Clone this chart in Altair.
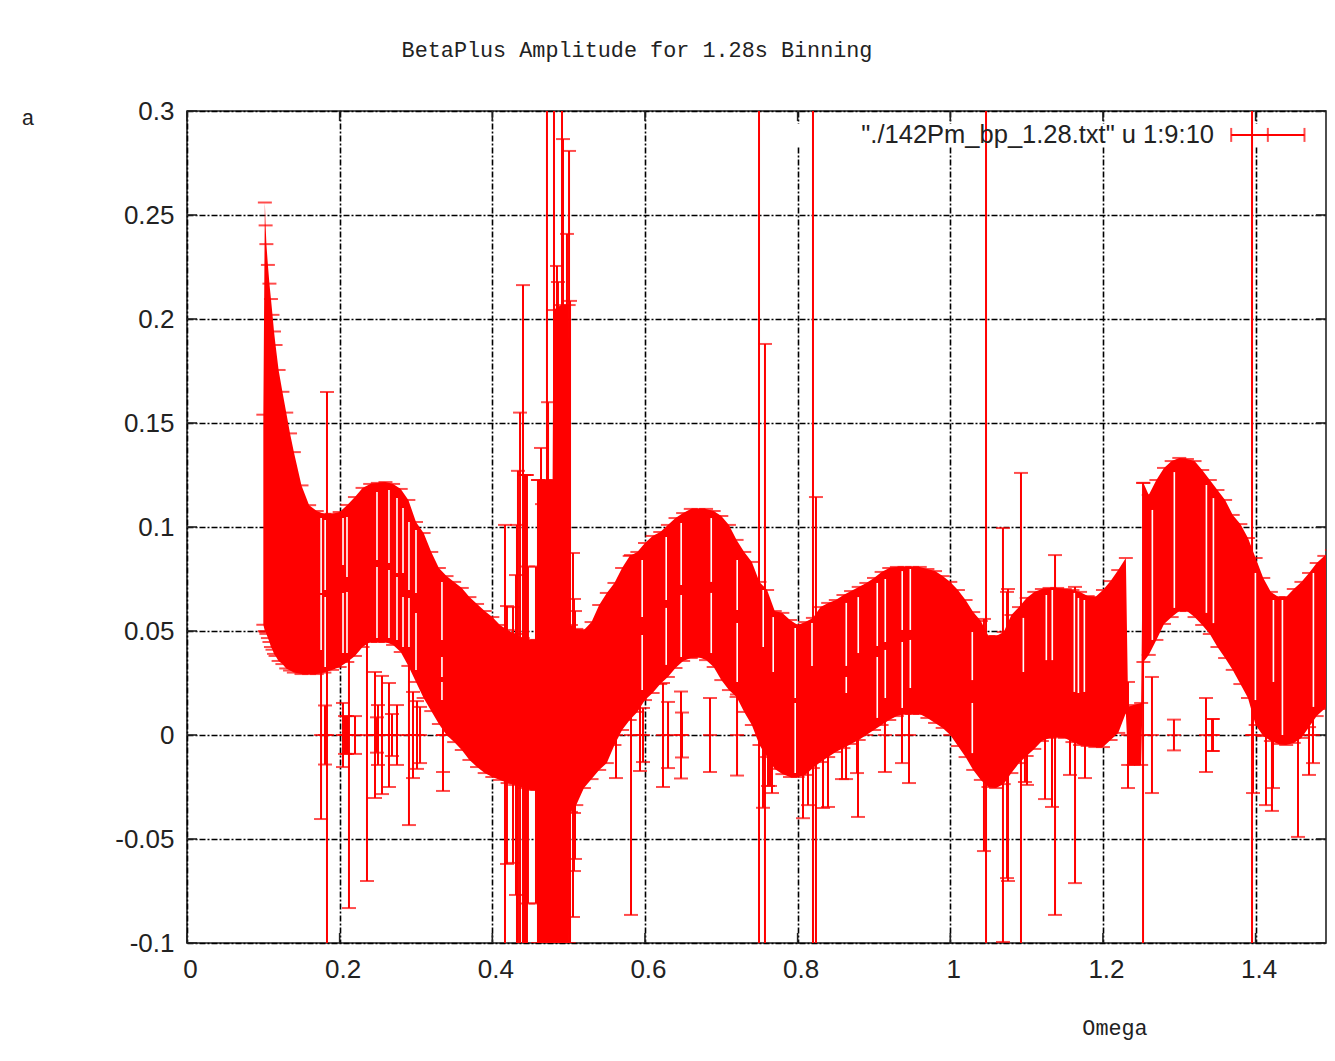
import altair as alt
import pandas as pd

TITLE = "BetaPlus Amplitude for 1.28s Binning"
XLABEL = "Omega"
YLABEL = "a"
KEY = '"./142Pm_bp_1.28.txt" u 1:9:10'
X_TICKS = [0, 0.2, 0.4, 0.6, 0.8, 1, 1.2, 1.4]
Y_TICKS = [-0.1, -0.05, 0, 0.05, 0.1, 0.15, 0.2, 0.25, 0.3]
X_MAX = 1.4922

band_x = [.100,.102,.103,.104,.106,.108,.110,.112,.114,.116,.120,.125,.130,.135,.140,.150,.160,.170,.180,.190,
          .200,.210,.220,.230,.240,.250,.260,.270,.280,.290,.300,.310,.320,.330,.340,.350,.360,.370,.380,.390,
          .400,.410,.420,.430,.440,.450,.459,.460,.470,.479,.480,.490,.500,.503,.510,.520,.530,.540,.550,.560,.570,.580,.590,
          .600,.610,.620,.630,.640,.650,.660,.670,.680,.690,.700,.710,.720,.730,.740,.750,.760,.770,.780,.790,
          .800,.810,.820,.830,.840,.850,.860,.870,.880,.890,.900,.910,.920,.930,.940,.950,.960,.970,.980,.990,
          1.00,1.01,1.02,1.03,1.04,1.05,1.06,1.07,1.08,1.09,1.10,1.11,1.12,1.13,1.14,1.15,1.16,1.17,1.18,1.19,
          1.20,1.21,1.22,1.23,1.233,1.24,1.25,1.253,1.26,1.27,1.28,1.29,1.30,1.31,1.32,1.33,1.34,1.35,1.36,1.37,1.38,1.39,
          1.40,1.41,1.42,1.43,1.44,1.45,1.46,1.47,1.48,1.49,1.50]
band_hi = [.154,.256,.245,.236,.226,.217,.2096,.202,.194,.1875,.1755,.165,.155,.145,.136,.120,.1105,.1077,.1063,.1063,
           .1072,.1106,.1144,.1188,.1207,.1212,.1216,.1207,.1183,.113,.1024,.0971,.088,.0803,.0764,.0736,.0707,.0663,.063,.0596,
           .0567,.0529,.0505,.0486,.0466,.0457,.0457,.1226,.1226,.1226,.2043,.2067,.2067,.0529,.051,.0505,.0543,.0625,.0683,.0731,.0803,.0861,.088,
           .0923,.0957,.0976,.101,.1043,.1067,.1087,.1087,.1087,.1077,.1053,.101,.0938,.088,.0832,.0736,.0697,.0596,.0587,.0553,
           .0529,.0543,.0563,.0615,.0635,.0649,.0673,.0692,.0712,.0731,.0755,.0784,.0803,.0808,.0808,.0808,.0808,.0798,.0788,.0764,
           .0736,.0697,.0649,.0591,.0548,.0476,.0476,.0495,.0577,.0615,.0659,.0688,.0702,.0707,.0707,.0702,.0697,.0688,.0668,.0663,
           .0697,.074,.0793,.0851,.0135,.0144,.0154,.1212,.1154,.1226,.1284,.1317,.1332,.1327,.1317,.1274,.1226,.1178,.113,.1058,.1014,.0947,
           .0851,.0755,.0688,.0663,.0663,.0702,.0736,.0779,.0827,.0861,.089]
band_lo = [.053,.050,.0495,.0486,.0466,.0447,.0423,.041,.039,.038,.0356,.0341,.032,.031,.030,.0293,.0293,.0293,.030,.0313,
           .0327,.0351,.038,.0423,.0447,.0447,.0447,.0433,.0399,.0332,.0255,.0178,.0115,.0053,0,-.0034,-.0072,-.012,-.0154,-.0183,
           -.0202,-.0216,-.0231,-.024,-.0255,-.0264,-.0264,-.1,-.1,-.1,-.1,-.1,-.1,-.037,-.0337,-.0255,-.0212,-.0168,-.0135,-.0048,.0024,.0072,.0111,
           .0168,.0202,.0245,.0279,.0322,.0356,.037,.0375,.036,.0327,.0264,.0216,.0183,.0111,.0048,-.0048,-.0106,-.0163,-.0188,-.0202,
           -.0202,-.0192,-.0159,-.013,-.0106,-.0082,-.0063,-.0043,-.0024,0,.0024,.0048,.0072,.0091,.0101,.0101,.0101,.0082,.0058,.0034,
           0,-.0053,-.0106,-.0168,-.0216,-.025,-.0255,-.0236,-.0183,-.0135,-.0101,-.0067,-.0029,-.0014,-.001,-.0014,-.0034,-.0048,-.0053,-.0058,
           -.0058,-.0024,.001,.0106,-.0144,-.0144,-.0144,.0351,.0385,.0457,.0534,.0567,.0596,.0596,.0567,.0529,.0486,.0423,.037,.0313,.0245,.0178,
           .0048,-.0005,-.0029,-.0043,-.0048,-.0038,-.0014,.0038,.0091,.0125,.0159]

iso_x = [.1756,.1808,.1834,.2044,.207,.2096,.2122,.2201,.2358,.2463,.2489,.2502,.2555,.2646,.2686,.2751,.2908,.2961,.3013,.3053,.3354,.3354,
         .4166,.4192,.4271,.431,.4323,.4336,.4363,.4402,.4415,.4441,.4454,.4467,.4572,.4598,.4638,.4651,.4716,.473,.4808,.4847,.486,.4913,.4926,.4978,.5005,.5018,.5057,.507,.5083,.507,
         .562,.5817,.5935,.5974,.6236,.6302,.6472,.6485,.6852,.7206,.7494,.7546,.7572,.7612,.7638,.7664,.807,.8136,.8201,.824,.8332,.8398,.8581,.8634,.8778,.8791,.9144,.9367,.9459,
         1.0441,1.0468,1.069,1.0743,1.0756,1.0926,1.0978,1.1005,1.1241,1.1332,1.1372,1.1568,1.1634,1.1765,1.2328,1.2525,1.2642,1.293,1.335,1.3429,1.3442,1.3953,1.3966,1.4136,1.4214,1.4228,1.4555,1.4699,1.4752]
iso_err = [.0404,.0142,.1649,.0154,.0091,.0091,.0832,.0091,.0702,.0303,.0085,.0144,.0284,.025,.0101,.0144,.0433,.0207,.0163,.0135,.0178,.0269,
           .101,.062,.0615,.0769,.101,.127,.155,.2163,.125,.125,.125,.081,.081,.1226,.138,.111,.32,.16,.33,.2255,.2178,.32,.2865,.2409,.2808,.2087,.0875,.0654,.0596,.0375,
           .0207,.0865,.0173,.013,.025,.0159,.0209,.0108,.0178,.0195,.35,.035,.188,.0245,.0245,.0279,.04,.0337,.35,.1144,.0351,.0346,.0212,.0212,.0183,.0394,.0178,.0135,.0231,
           .0558,.35,.0995,.0688,.0702,.126,.0226,.024,.0308,.0346,.0865,.0192,.0712,.0207,.0255,.1212,.0279,.0074,.0178,.0077,.0077,.35,.0279,.0337,.0365,.0255,.049,.0192,.0135]

slit_x = [.1757,.1757,.181,.181,.2044,.2044,.2096,.2096,.2489,.2489,.2646,.2646,.2751,.2751,.283,.283,.2908,.2908,.3,.3,.334,.334,.334,
          .5963,.5963,.6278,.6278,.6474,.6474,.6868,.6868,.7208,.7208,.7549,.768,.7968,.7968,.8188,.8637,.8637,.8794,.9043,.9043,.9148,.9148,.937,.937,.9476,.9476,
          1.0288,1.0288,1.0957,1.1258,1.1336,1.1625,1.1678,1.1756,1.2647,1.2935,1.3355,1.3447,1.3997,1.4233,1.4351,1.4757]
slit_hi = [.1043,.0673,.1034,.0663,.1043,.0683,.1048,.0688,.1168,.0808,.1178,.0793,.1139,.076,.1091,.0663,.1024,.0659,.0986,.0587,.0736,.0375,.0255,
           .0841,.0481,.0952,.0611,.1019,.0673,.1043,.0683,.0841,.0538,.0697,.0567,.0514,.0154,.0538,.0635,.0279,.0663,.0731,.0375,.075,.0409,.0788,.0447,.0798,.0457,
           .0495,.0154,.0563,.0673,.0697,.0683,.0659,.0649,.1082,.1264,.1202,.1139,.0779,.0649,.0649,.0779]
slit_lo = [.0683,.0409,.0697,.0327,.0817,.0394,.076,.0394,.0841,.0466,.0827,.0466,.0779,.0457,.0779,.0423,.0697,.0423,.0683,.0313,.0457,.0279,.0168,
           .0567,.0216,.0649,.0337,.0721,.0375,.0736,.0394,.0601,.0255,.0423,.0303,.0178,-.0183,.0332,.0332,.0202,.0394,.0428,.0082,.0447,.0178,.0505,.013,.0505,.0226,
           .0264,-.0087,.0303,.036,.036,.0207,.0202,.0207,.0457,.0611,.0587,.0538,.0168,.0255,0,.0135]

key_gap_x = [0.79, 1.471]
key_gap_y = [0.2938, 0.283]
key_sample_x = [1.368, 1.464]
key_sample_y = [0.2885]

RED = "#ff0000"
INK = "#222222"
W, H = 1139, 832
xs = alt.Scale(domain=[0, X_MAX], nice=False, zero=False)
ys = alt.Scale(domain=[-0.1, 0.3], nice=False, zero=False)


def X(f):
    return alt.X(f, type="quantitative", scale=xs, title=None)


def Y(f):
    return alt.Y(f, type="quantitative", scale=ys, title=None)


band = pd.DataFrame({"x": band_x, "hi": band_hi, "lo": band_lo})
iso = pd.DataFrame({"x": iso_x, "hi": iso_err, "lo": [-e for e in iso_err], "mid": [0.0] * len(iso_x)})
slit = pd.DataFrame({"x": slit_x, "hi": slit_hi, "lo": slit_lo})

axis_x = alt.Axis(values=X_TICKS, grid=True, gridColor="#000000", gridDash=[6, 2, 2, 2], gridWidth=1.6,
                  ticks=False, domain=False, labelExpr="datum.value + ''", labelFont="Liberation Sans",
                  labelFontSize=26, labelColor=INK, labelPadding=13, labelOffset=3, labelOverlap=False,
                  labelFlush=False, labelBound=False)
axis_y = alt.Axis(values=Y_TICKS, grid=True, gridColor="#000000", gridDash=[6, 2, 2, 2], gridWidth=1.6,
                  ticks=False, domain=False, labelExpr="datum.value + ''", labelFont="Liberation Sans",
                  labelFontSize=26, labelColor=INK, labelPadding=13, labelOverlap=False,
                  labelFlush=False, labelBound=False)

base = alt.Chart(pd.DataFrame({"x": [0.0], "y": [0.0]})).mark_point(opacity=0).encode(
    x=alt.X("x:Q", scale=xs, title=None, axis=axis_x),
    y=alt.Y("y:Q", scale=ys, title=None, axis=axis_y),
)

gap = alt.Chart(pd.DataFrame({"x": [key_gap_x[0]], "x2": [key_gap_x[1]], "y": [key_gap_y[0]], "y2": [key_gap_y[1]]})).mark_rect(
    color="white").encode(x=X("x"), x2="x2", y=Y("y"), y2="y2")

xt = pd.DataFrame({"x": X_TICKS})
yt = pd.DataFrame({"y": Y_TICKS})
ticks = [
    alt.Chart(xt).mark_rule(color=INK, strokeWidth=1.6).encode(x=X("x"), y=alt.value(0), y2=alt.value(10)),
    alt.Chart(xt).mark_rule(color=INK, strokeWidth=1.6).encode(x=X("x"), y=alt.value(H - 10), y2=alt.value(H)),
    alt.Chart(yt).mark_rule(color=INK, strokeWidth=1.6).encode(y=Y("y"), x=alt.value(0), x2=alt.value(10)),
    alt.Chart(yt).mark_rule(color=INK, strokeWidth=1.6).encode(y=Y("y"), x=alt.value(W - 10), x2=alt.value(W)),
]

band_area = alt.Chart(band).mark_area(color=RED, opacity=1, clip=True, line=False).encode(
    x=X("x"), y=Y("hi"), y2="lo")
band_top = alt.Chart(band).mark_tick(color=RED, orient="horizontal", size=14, thickness=2, clip=True).encode(
    x=X("x"), y=Y("hi"))
band_bot = alt.Chart(band).mark_tick(color=RED, orient="horizontal", size=14, thickness=2, clip=True).encode(
    x=X("x"), y=Y("lo"))

iso_rule = alt.Chart(iso).mark_rule(color=RED, strokeWidth=2, clip=True).encode(x=X("x"), y=Y("hi"), y2="lo")
iso_caps = [
    alt.Chart(iso).mark_tick(color=RED, orient="horizontal", size=14, thickness=2, clip=True).encode(x=X("x"), y=Y(f))
    for f in ["hi", "lo", "mid"]
]
slits = alt.Chart(slit).mark_rule(color="white", strokeWidth=1.6, clip=True).encode(x=X("x"), y=Y("hi"), y2="lo")

key_line = alt.Chart(pd.DataFrame({"x": [key_sample_x[0]], "x2": [key_sample_x[1]], "y": key_sample_y})).mark_rule(
    color=RED, strokeWidth=2).encode(x=X("x"), x2="x2", y=Y("y"))
key_caps = alt.Chart(pd.DataFrame({"x": [key_sample_x[0], sum(key_sample_x) / 2, key_sample_x[1]], "y": key_sample_y * 3})).mark_tick(
    color=RED, orient="vertical", size=14, thickness=2).encode(x=X("x"), y=Y("y"))


def label(s, x, y, font, size, align="center"):
    return alt.Chart(pd.DataFrame({"t": [s]})).mark_text(
        font=font, fontSize=size, align=align, baseline="middle", color=INK
    ).encode(x=alt.value(x), y=alt.value(y), text="t:N")


texts = [
    label(TITLE, 450, -61, "Liberation Mono", 21.8),
    label(YLABEL, -159, 7, "Liberation Mono", 21.8),
    label(XLABEL, 928, 917, "Liberation Mono", 21.8),
    label(KEY, 1027, 24, "Liberation Sans", 25.5, "right"),
]

chart = alt.layer(
    base, gap, *ticks, band_area, band_top, band_bot, iso_rule, *iso_caps, slits, key_line, key_caps, *texts
).properties(
    width=W, height=H,
    autosize=alt.AutoSizeParams(type="none"),
    padding={"left": 179, "top": 103, "right": 1, "bottom": 100},
    background="white",
).configure_view(stroke=INK, strokeWidth=1.6)

chart.save("out.html", embed_options={"renderer": "svg", "actions": False})
